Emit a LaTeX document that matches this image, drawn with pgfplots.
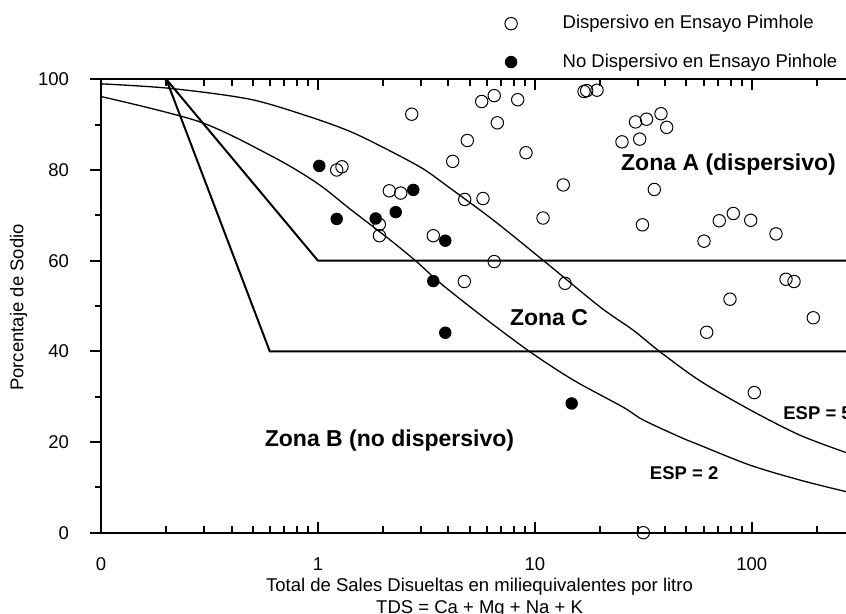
\documentclass[border=0pt]{standalone}
\usepackage{fontspec}
\setmainfont{Liberation Sans}
\usepackage{pgfplots}
\pgfplotsset{compat=1.18}
\pgfplotsset{mylegimg/.style={legend image code/.code={\path[draw=none,fill=none] (-5pt,-5pt) rectangle (5pt,5pt); \draw[##1] plot coordinates {(0pt,0pt)};}}}
\begin{document}
\begin{tikzpicture}
\begin{axis}[
  scale only axis,
  width=433.8pt, height=226.7pt,
  xmode=log, xmin=0.1, xmax=1000, ymin=0, ymax=100,
  clip=false,
  axis line style={line width=1pt},
  tick style={black, line width=1pt},
  xtick={0.1,1,10,100,1000},
  xticklabels={0,1,10,100,{}},
  minor xtick={0.2,0.3,0.4,0.5,0.6,0.7,0.8,0.9,2,3,4,5,6,7,8,9,20,30,40,50,60,70,80,90,200,300,400,500,600,700,800,900},
  ytick={0,20,40,60,80,100},
  minor ytick={10,30,50,70,90},
  xtick align=inside, ytick align=outside,
  ytick pos=left,
  major tick length=5.5pt, minor tick length=3.25pt,
  /pgf/number format/assume math mode=true,
  tick label style={font=\fontsize{9.25}{11}\selectfont},
  xticklabel style={yshift=-9pt},
  yticklabel style={xshift=-7pt},
  xlabel={Total de Sales Disueltas en miliequivalentes por litro\\TDS = Ca + Mg + Na + K},
  every axis x label/.style={at={([yshift=-22.3pt]axis description cs:0.4363,0)}, anchor=north, align=center, inner sep=0pt, font=\fontsize{9.25}{11}\selectfont},
  ylabel={Porcentaje de Sodio},
  every axis y label/.style={at={([xshift=-38.75pt]axis description cs:0,0.4967)}, rotate=90, anchor=base, inner sep=0pt, font=\fontsize{9.25}{11}\selectfont},
  legend style={draw=none, fill=none, at={(axis description cs:0.4607,1.1456)}, anchor=north west, inner xsep=0pt, inner ysep=0pt, row sep=9.2pt, font=\fontsize{9.25}{11}\selectfont, nodes={inner sep=0pt}, /tikz/every odd column/.append style={column sep=20.8pt}},
  legend cell align=left,
]
% zone boundaries
\addplot[black, line width=1pt, forget plot] coordinates {(0.2,100) (1,60) (1000,60)};
\addplot[black, line width=1pt, forget plot] coordinates {(0.2,100) (0.6,40) (1000,40)};
% ESP = 5
\addplot[black, line width=0.65pt, smooth, forget plot] coordinates {
(0.1,99.0) (0.208,98.0) (0.486,95.6) (0.92,91.7) (1.406,88.5) (1.995,85.0) (3.02,80.4) (4.064,76.0) (6.415,69.0) (10.91,60.1) (19.98,49.8) (28.36,44.7) (37.77,39.9) (57.74,33.5) (98.2,27.1) (167,21.5) (275,17.6)};
% ESP = 2
\addplot[black, line width=0.65pt, smooth, forget plot] coordinates {
(0.1,96.2) (0.286,90.6) (0.621,82.9) (0.991,77.1) (1.406,71.4) (2.149,64.6) (2.863,59.7) (3.656,55.1) (5.77,47.6) (9.50,39.9) (15.0,33.7) (25.5,27.7) (31.5,24.9) (46.7,21.1) (57.7,19.3) (98.2,14.9) (167,11.6) (275,9.0)};
% dispersive (open)
\addplot[only marks, mark=o, mark size=3.1pt, mark options={black, line width=0.5pt}, mylegimg] coordinates {
(1.221,80.0) (1.291,80.7) (2.134,75.4) (2.409,74.9) (1.919,68.0) (1.922,65.5) (3.404,65.5) (4.732,55.4) (4.183,81.9) (4.752,73.5) (2.707,92.3) (5.690,95.1) (6.500,96.4) (8.341,95.5) (6.717,90.4) (4.885,86.5) (9.107,83.8) (13.53,76.7) (10.91,69.4) (5.770,73.7) (6.500,59.8) (13.78,55.0) (16.86,97.3) (17.35,97.5) (19.36,97.6) (29.13,90.6) (32.73,91.2) (38.17,92.4) (40.56,89.4) (25.23,86.2) (30.45,86.8) (35.56,75.7) (31.36,67.9) (60.26,64.3) (70.88,68.8) (82.27,70.4) (98.95,68.9) (129.4,65.9) (143.9,55.9) (156.7,55.4) (79.4,51.5) (192.3,47.4) (62.01,44.2) (102.8,30.9) (31.64,0)};
\addlegendentry{Dispersivo en Ensayo Pimhole}
% non-dispersive (filled)
\addplot[only marks, mark=*, mark size=2.9pt, mark options={black, fill=black}, mylegimg] coordinates {
(1.015,80.9) (1.221,69.2) (1.847,69.3) (2.284,70.7) (2.753,75.6) (3.867,64.4) (3.404,55.5) (3.867,44.1) (14.79,28.5)};
\addlegendentry{No Dispersivo en Ensayo Pinhole}
\node[font=\fontsize{11.5}{13}\selectfont\bfseries, anchor=base] at (axis cs:78.2,79.8) {Zona A (dispersivo)};
\node[font=\fontsize{11.5}{13}\selectfont\bfseries, anchor=base] at (axis cs:11.63,45.8) {Zona C};
\node[font=\fontsize{11.5}{13}\selectfont\bfseries, anchor=base] at (axis cs:2.138,19.1) {Zona B (no dispersivo)};
\node[font=\fontsize{9.25}{11}\selectfont\bfseries, anchor=base] at (axis cs:48.8,11.8) {ESP = 2};
\node[font=\fontsize{9.25}{11}\selectfont\bfseries, anchor=base west, inner sep=0pt] at (axis cs:139.4,24.9) {ESP = 5};
\coordinate (O) at (axis cs:0.1,0);
\coordinate (T) at (axis cs:0.1,100);
\end{axis}
\pgfresetboundingbox
\useasboundingbox ([xshift=-50.5pt,yshift=-40.65pt]O) rectangle ([xshift=372.5pt,yshift=39.65pt]T);
\end{tikzpicture}
\end{document}
